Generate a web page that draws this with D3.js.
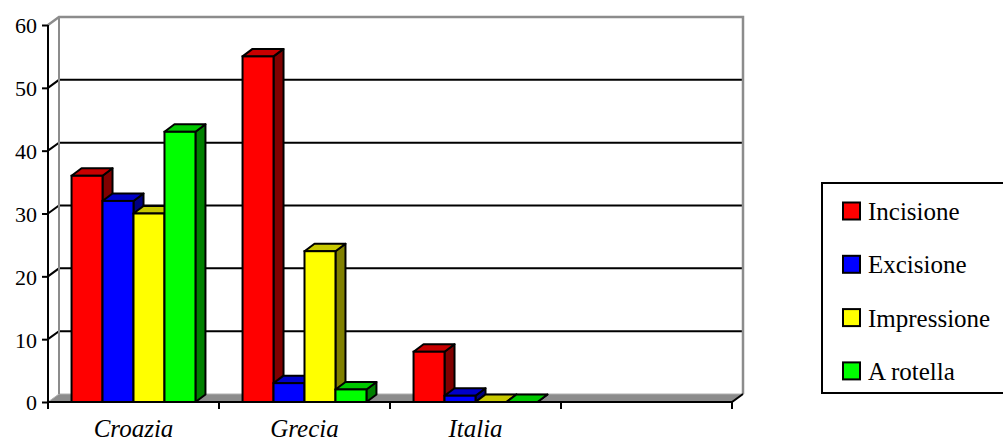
<!DOCTYPE html>
<html>
<head>
<meta charset="utf-8">
<script src="https://cdn.jsdelivr.net/npm/d3@7"></script>
<style>
  html, body { margin: 0; padding: 0; background: #fff; overflow: hidden; }
  svg { display: block; }
</style>
</head>
<body>
<svg id="chart" width="1003" height="442"></svg>
<script>
// Data
const categories = ['Croazia', 'Grecia', 'Italia', ''];
const seriesNames = ['Incisione', 'Excisione', 'Impressione', 'A rotella'];
const incisione = [36, 55, 8, null];
const excisione = [32, 3, 1, null];
const impressione = [30, 24, 0, null];
const aRotella = [43, 2, 0, null];
const yTicks = [0, 10, 20, 30, 40, 50, 60];

const seriesValues = [incisione, excisione, impressione, aRotella];

// Face colours per series: front, top, side
const colors = [
    { front: '#ff0000', top: '#c80000', side: '#800000' },
    { front: '#0000ff', top: '#0000c8', side: '#000080' },
    { front: '#ffff00', top: '#c8c800', side: '#808000' },
    { front: '#00ff00', top: '#00c800', side: '#008000' }
];

// Layout
const plot = { left: 48, right: 732, top: 25, bottom: 402 };
const depth = { dx: 11, dy: 8 };
const barDepth = { dx: 10, dy: 7.5 };
const fontFamily = "'Liberation Serif', 'Times New Roman', serif";
const fontSize = 25;
const tickFontSize = 22;

const svg = d3.select('#chart');

const x = d3.scaleBand()
    .domain(categories)
    .range([plot.left, plot.right])
    .paddingInner(0)
    .paddingOuter(0);

const xInner = d3.scaleBand()
    .domain(seriesNames)
    .range([0, x.bandwidth()])
    .paddingInner(0)
    .paddingOuter(0.76);

const y = d3.scaleLinear()
    .domain([0, 60])
    .range([plot.bottom, plot.top]);

// Back wall, side wall and floor
const walls = svg.append('g');

// floor
walls.append('path')
    .attr('d', `M${plot.left},${plot.bottom} L${plot.right},${plot.bottom} L${plot.right + depth.dx},${plot.bottom - depth.dy} L${plot.left + depth.dx},${plot.bottom - depth.dy} Z`)
    .attr('fill', '#8c8c8c')
    .attr('stroke', '#b0b0b0')
    .attr('stroke-width', 1);

// gridlines (black) on back wall and left side wall
const grid = yTicks.filter(v => v > 0 && v < 60);
walls.selectAll('.grid')
    .data(grid)
    .enter()
    .append('path')
        .attr('class', 'grid')
        .attr('d', v => `M${plot.left},${y(v)} L${plot.left + depth.dx},${y(v) - depth.dy} L${plot.right + depth.dx},${y(v) - depth.dy}`)
        .attr('fill', 'none')
        .attr('stroke', '#000')
        .attr('stroke-width', 2);

// gray outline of the walls
walls.append('path')
    .attr('d', `M${plot.left},${y(60)} L${plot.left + depth.dx},${y(60) - depth.dy} L${plot.right + depth.dx},${y(60) - depth.dy} L${plot.right + depth.dx},${plot.bottom - depth.dy}`)
    .attr('fill', 'none')
    .attr('stroke', '#8c8c8c')
    .attr('stroke-width', 2.5);

walls.append('line')
    .attr('x1', plot.left + depth.dx).attr('x2', plot.left + depth.dx)
    .attr('y1', y(60) - depth.dy).attr('y2', plot.bottom - depth.dy)
    .attr('stroke', '#8c8c8c')
    .attr('stroke-width', 2);

// Bars
const bars = [];
categories.forEach((cat, ci) => {
    seriesNames.forEach((s, si) => {
        const v = seriesValues[si][ci];
        if (v === null) return;
        bars.push({ cat, s, si, v });
    });
});

const barG = svg.append('g').selectAll('.bar')
    .data(bars)
    .enter()
    .append('g')
        .attr('class', 'bar');

barG.each(function(d) {
    const g = d3.select(this);
    const x0 = x(d.cat) + xInner(d.s);
    const x1 = x0 + xInner.bandwidth();
    const y0 = y(0);
    const y1 = y(d.v);
    const dx = barDepth.dx, dy = barDepth.dy;
    const c = colors[d.si];

    // side face
    g.append('path')
        .attr('d', `M${x1},${y0} L${x1 + dx},${y0 - dy} L${x1 + dx},${y1 - dy} L${x1},${y1} Z`)
        .attr('fill', c.side)
        .attr('stroke', '#000')
        .attr('stroke-width', 2)
        .attr('stroke-linejoin', 'round');
    // top face
    g.append('path')
        .attr('d', `M${x0},${y1} L${x0 + dx},${y1 - dy} L${x1 + dx},${y1 - dy} L${x1},${y1} Z`)
        .attr('fill', c.top)
        .attr('stroke', '#000')
        .attr('stroke-width', 2)
        .attr('stroke-linejoin', 'round');
    // front face
    if (y0 - y1 > 0) {
        g.append('rect')
            .attr('x', x0)
            .attr('y', y1)
            .attr('width', x1 - x0)
            .attr('height', y0 - y1)
            .attr('fill', c.front)
            .attr('stroke', '#000')
            .attr('stroke-width', 2);
    }
});

// Axes
const axisG = svg.append('g');

// y axis
const yAxis = d3.axisLeft(y)
    .tickValues(yTicks)
    .tickSize(6)
    .tickPadding(5)
    .tickFormat(d3.format('d'));

axisG.append('g')
    .attr('transform', `translate(${plot.left},0)`)
    .call(yAxis)
    .attr('font-family', fontFamily)
    .attr('font-size', tickFontSize)
    .call(g => g.select('.domain').remove())
    .call(g => g.selectAll('.tick line').attr('stroke', '#000').attr('stroke-width', 2))
    .call(g => g.selectAll('.tick text')
        .attr('fill', '#000')
        .attr('dy', '0.36em'));

axisG.append('line')
    .attr('x1', plot.left).attr('x2', plot.left)
    .attr('y1', plot.top).attr('y2', plot.bottom + 7)
    .attr('stroke', '#000')
    .attr('stroke-width', 2);

// x axis baseline and right diagonal
axisG.append('path')
    .attr('d', `M${plot.left},${plot.bottom} L${plot.right},${plot.bottom} L${plot.right + depth.dx},${plot.bottom - depth.dy}`)
    .attr('fill', 'none')
    .attr('stroke', '#000')
    .attr('stroke-width', 2);

// category boundary ticks
const boundaries = categories.map(c => x(c) + x.bandwidth());
axisG.selectAll('.ctick')
    .data(boundaries)
    .enter()
    .append('line')
        .attr('class', 'ctick')
        .attr('x1', d => d).attr('x2', d => d)
        .attr('y1', plot.bottom).attr('y2', plot.bottom + 7)
        .attr('stroke', '#000')
        .attr('stroke-width', 2);

// category labels
const xAxis = d3.axisBottom(x).tickSize(0).tickPadding(0);
axisG.append('g')
    .attr('transform', `translate(0,${plot.bottom})`)
    .call(xAxis)
    .attr('font-family', fontFamily)
    .attr('font-size', fontSize)
    .attr('font-style', 'italic')
    .call(g => g.select('.domain').remove())
    .call(g => g.selectAll('.tick text')
        .attr('fill', '#000')
        .attr('dy', null)
        .attr('y', 35));

// Legend
const legend = svg.append('g')
    .attr('transform', 'translate(822,183)')
    .attr('font-family', fontFamily)
    .attr('font-size', fontSize);

legend.append('rect')
    .attr('x', 0)
    .attr('y', 0)
    .attr('width', 190)
    .attr('height', 210)
    .attr('fill', '#fff')
    .attr('stroke', '#000')
    .attr('stroke-width', 2);

const legendItem = legend.selectAll('.item')
    .data(seriesNames)
    .enter()
    .append('g')
        .attr('class', 'item')
        .attr('transform', (d, i) => `translate(21,${28 + i * 53.3})`);

legendItem.append('rect')
    .attr('x', 0)
    .attr('y', -8.5)
    .attr('width', 17)
    .attr('height', 17)
    .attr('fill', (d, i) => colors[i].front)
    .attr('stroke', '#000')
    .attr('stroke-width', 2);

legendItem.append('text')
    .attr('x', 25)
    .attr('y', 9)
    .attr('fill', '#000')
    .text(d => d);
</script>
</body>
</html>
